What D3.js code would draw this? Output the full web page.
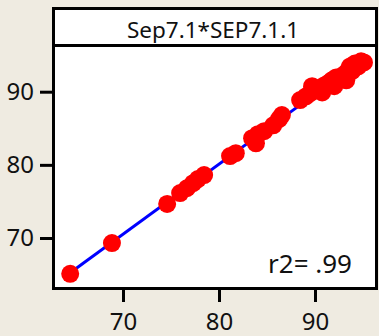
<!DOCTYPE html>
<html>
<head>
<meta charset="utf-8">
<script src="https://cdn.jsdelivr.net/npm/d3@7/dist/d3.min.js"></script>
<style>
  html, body { margin: 0; padding: 0; background: #efebe1; }
  svg { display: block; }
  text { font-family: "Noto Sans", "Open Sans", sans-serif; fill: #111; }
</style>
</head>
<body>
<script>
// Paired measurements: Sep7.1 (x) against SEP7.1.1 (y)
const xValues = [64.5, 68.85, 74.6, 75.95, 76.65, 77.3, 77.8, 78.45, 81.15, 81.75,
  83.45, 83.85, 84.05, 84.7, 85.65, 86.25, 86.55,
  88.45, 89.05, 89.5, 89.9, 89.7, 90.3, 90.75, 90.95, 91.35, 91.75, 92.0, 92.2,
  92.6, 93.0, 93.25, 93.45, 93.65, 93.85, 94.15, 94.5, 94.8, 95.1];
const yValues = [65.1, 69.3, 74.65, 76.15, 76.8, 77.5, 78.05, 78.6, 81.2, 81.6,
  83.65, 82.95, 84.2, 84.6, 85.4, 86.25, 86.8,
  88.85, 89.35, 89.8, 90.2, 90.75, 90.45, 89.9, 90.85, 91.15, 91.55, 90.75, 91.95,
  91.85, 92.35, 91.55, 92.9, 93.45, 92.8, 93.85, 93.45, 94.15, 94.0];
const xTicks = [70, 80, 90];
const yTicks = [70, 80, 90];
const panelTitle = "Sep7.1*SEP7.1.1";
const r2Label = "r2= .99";

const W = 379, H = 336;
const box = { left: 52, right: 378, top: 7, strip: 47, bottom: 290 };

const svg = d3.select("body").append("svg").attr("width", W).attr("height", H);

// Scales: 70→123px, 90→315px ; 70→238px, 90→91.7px
const x = d3.scaleLinear().domain([70, 90]).range([123, 315]);
const y = d3.scaleLinear().domain([70, 90]).range([238, 91.7]);

// Plot and title strip background
svg.append("rect").attr("x", box.left).attr("y", box.top)
  .attr("width", box.right - box.left).attr("height", box.bottom - box.top)
  .attr("fill", "#fff");

// Least-squares fit line over the data range
const n = xValues.length;
const mx = d3.mean(xValues), my = d3.mean(yValues);
let sxy = 0, sxx = 0;
for (let i = 0; i < n; i++) {
  sxy += (xValues[i] - mx) * (yValues[i] - my);
  sxx += (xValues[i] - mx) ** 2;
}
const slope = sxy / sxx, icpt = my - slope * mx;
const [x0, x1] = d3.extent(xValues);
svg.append("line")
  .attr("x1", x(x0)).attr("y1", y(icpt + slope * x0))
  .attr("x2", x(x1)).attr("y2", y(icpt + slope * x1))
  .attr("stroke", "#0000ff").attr("stroke-width", 3);

// Points
svg.append("g").selectAll("circle")
  .data(d3.range(n))
  .join("circle")
  .attr("cx", i => x(xValues[i]))
  .attr("cy", i => y(yValues[i]))
  .attr("r", 9)
  .attr("fill", "#ff0000");

// Frame and strip divider
svg.append("rect").attr("x", box.left + 1.5).attr("y", box.top + 1.5)
  .attr("width", box.right - box.left - 3).attr("height", box.bottom - box.top - 3)
  .attr("fill", "none").attr("stroke", "#000").attr("stroke-width", 3);
svg.append("line").attr("x1", box.left).attr("x2", box.right)
  .attr("y1", box.strip - 1.5).attr("y2", box.strip - 1.5)
  .attr("stroke", "#000").attr("stroke-width", 3);

svg.append("text").attr("x", (box.left + box.right) / 2 - 2).attr("y", 38)
  .attr("text-anchor", "middle").attr("font-size", 22.5).text(panelTitle);

// Axes
const xAxis = d3.axisBottom(x).tickValues(xTicks).tickSize(12).tickPadding(11);
const gx = svg.append("g").attr("transform", `translate(0,${box.bottom})`).call(xAxis);
gx.select(".domain").remove();
gx.selectAll("line").attr("stroke", "#000").attr("stroke-width", 3);
gx.selectAll("text").attr("font-size", 24).attr("font-family", "Noto Sans").attr("fill", "#111");

const yAxis = d3.axisLeft(y).tickValues(yTicks).tickSize(12).tickPadding(6);
const gy = svg.append("g").attr("transform", `translate(${box.left},0)`).call(yAxis);
gy.select(".domain").remove();
gy.selectAll("line").attr("stroke", "#000").attr("stroke-width", 3);
gy.selectAll("text").attr("font-size", 24).attr("font-family", "Noto Sans").attr("fill", "#111");

// Fit statistic
svg.append("text").attr("x", 352).attr("y", 273)
  .attr("text-anchor", "end").attr("font-size", 26).text(r2Label);
</script>
</body>
</html>
